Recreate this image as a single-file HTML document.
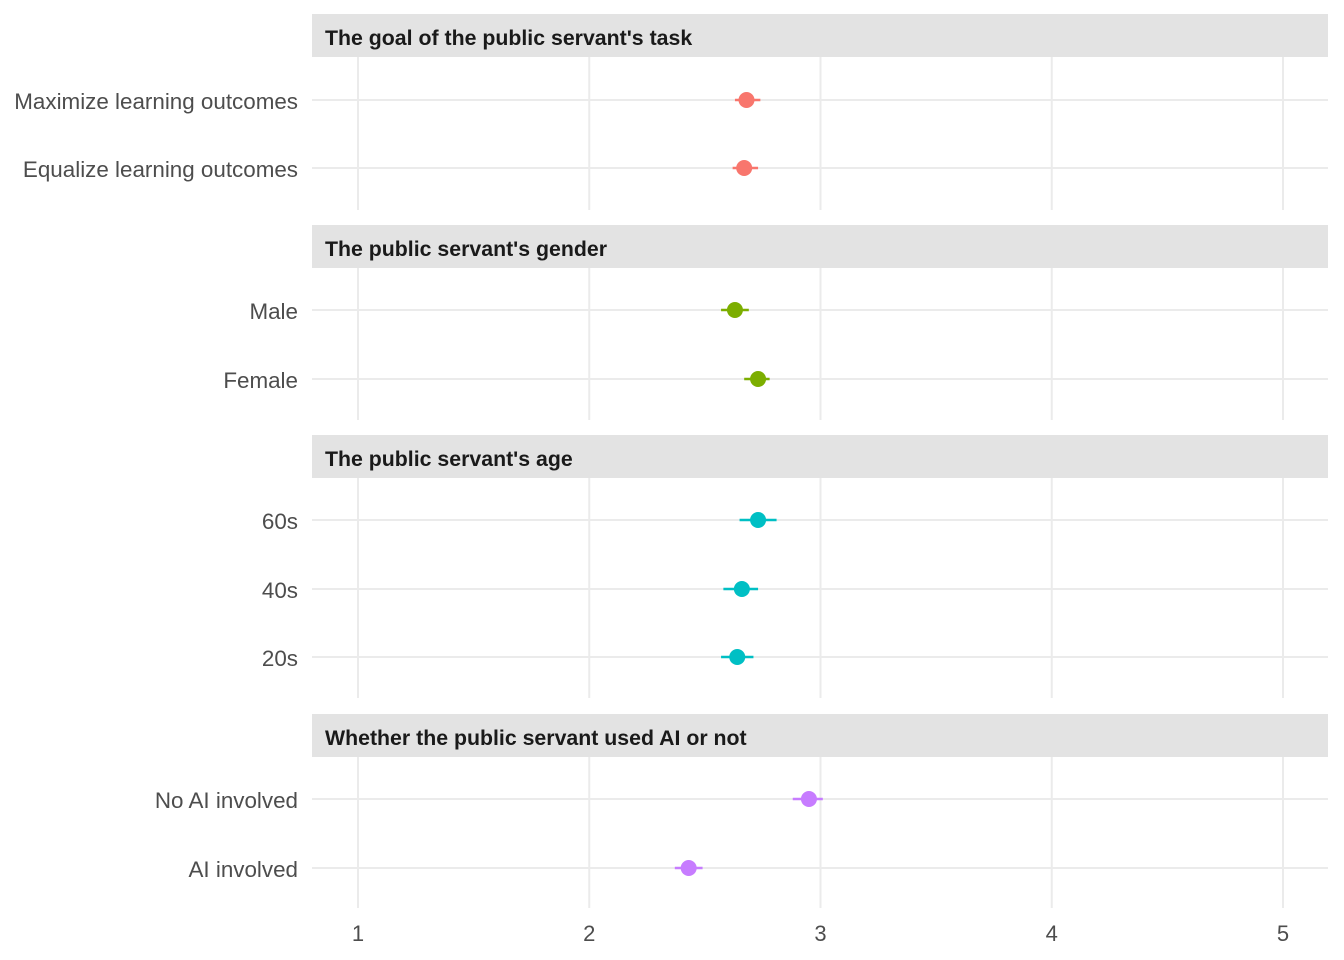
<!DOCTYPE html>
<html><head><meta charset="utf-8"><style>
body{margin:0;background:#fff;}
svg{display:block;font-family:"Liberation Sans",Arial,sans-serif;}
</style></head><body>
<svg id="chart" width="1344" height="960" viewBox="0 0 1344 960"></svg>
<script>
const panelTitles=["The goal of the public servant's task","The public servant's gender","The public servant's age","Whether the public servant used AI or not"];
const panelLabels=[["Maximize learning outcomes","Equalize learning outcomes"],["Male","Female"],["60s","40s","20s"],["No AI involved","AI involved"]];
const panelMeans=[[2.68,2.67],[2.63,2.73],[2.73,2.66,2.64],[2.95,2.43]];
const panelLo=[[2.63,2.62],[2.57,2.67],[2.65,2.58,2.57],[2.88,2.37]];
const panelHi=[[2.74,2.73],[2.69,2.78],[2.81,2.73,2.71],[3.01,2.49]];
const panelColors=["#F8766D","#7CAE00","#00BFC4","#C77CFF"];
const xTicks=[1,2,3,4,5];

const svg=document.getElementById('chart');
const NS='http://www.w3.org/2000/svg';
function x(v){return 358+(v-1)*231.25;}
function mk(tag,attrs,parent){const e=document.createElementNS(NS,tag);for(const k in attrs)e.setAttribute(k,attrs[k]);(parent||svg).appendChild(e);return e;}
const layout=[{s:14,p0:57,p1:210,rows:[100,168]},{s:225,p0:268,p1:420,rows:[310,379]},{s:435,p0:478,p1:698,rows:[520,589,657]},{s:714,p0:757,p1:908,rows:[799,868]}];
panelTitles.forEach((t,i)=>{
  const L=layout[i];
  const g=mk('g',{});
  
  
  const st=mk('rect',{x:312,y:L.s,width:1016,height:L.p0-L.s,fill:'#e3e3e3'},g);
  
  
  const tt=mk('text',{x:325,y:L.s+31,'font-size':21.3,'font-weight':'bold',fill:'#1a1a1a'},g);
  tt.textContent=t;
  
  
  xTicks.forEach(v=>{
    const gl=mk('line',{x1:x(v),x2:x(v),y1:L.p0,y2:L.p1,stroke:'#ebebeb','stroke-width':2},g);
    
    
  });
  panelLabels[i].forEach((lab,j)=>{
    const y=L.rows[j];
    const hl=mk('line',{x1:312,x2:1328,y1:y,y2:y,stroke:'#ebebeb','stroke-width':2},g);
    
    
    const lt=mk('text',{x:298,y:y+9,'font-size':22.4,'text-anchor':'end',fill:'#4d4d4d'},g);
    lt.textContent=lab;
    
    
    const eb=mk('line',{x1:x(panelLo[i][j]),x2:x(panelHi[i][j]),y1:y,y2:y,stroke:panelColors[i],'stroke-width':2.5},g);
    
    
    const pt=mk('circle',{cx:x(panelMeans[i][j]),cy:y,r:8,fill:panelColors[i]},g);
    
    
  });
});
xTicks.forEach(v=>{
  const t=mk('text',{x:x(v),y:941,'font-size':22,'text-anchor':'middle',fill:'#4d4d4d'});
  t.textContent=v;
  
  
});
</script>
</body></html>
